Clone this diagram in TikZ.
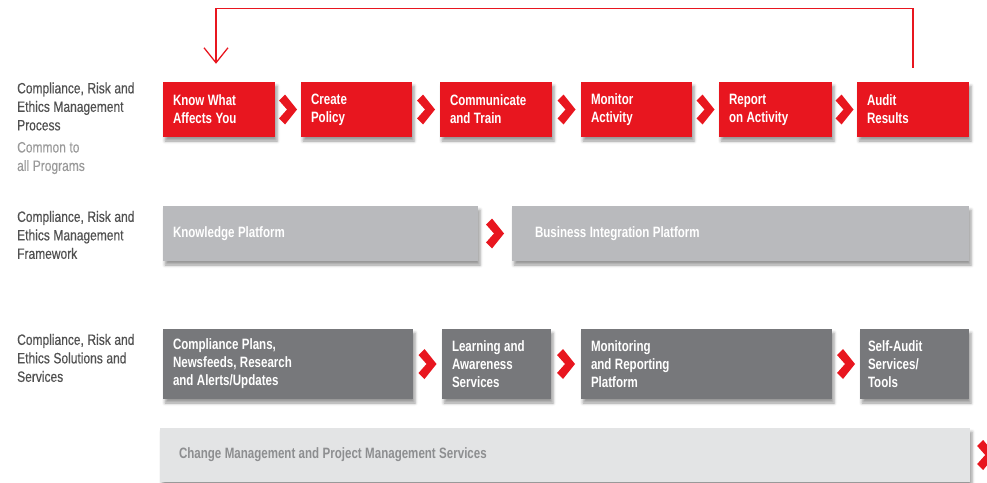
\documentclass[tikz,border=0pt]{standalone}
\usepackage{fontspec}
\setmainfont{Liberation Sans}[FakeStretch=0.8, FakeBold=0.4]
\newfontfamily\boxfont{Liberation Sans Bold}[FakeStretch=0.77]
\usetikzlibrary{calc,positioning,shapes,shadows,shadows.blur,arrows.meta}

\definecolor{crered}{HTML}{E8161F}
\definecolor{crelight}{HTML}{B9BABD}
\definecolor{credark}{HTML}{77787B}
\definecolor{crepale}{HTML}{E3E4E5}
\definecolor{crelabel}{HTML}{505050}
\definecolor{cremuted}{HTML}{9A9A9A}
\definecolor{crepaletext}{HTML}{8D8E90}

\tikzset{
	stagebox/.style={rectangle, inner xsep=10pt, inner ysep=0pt, text width=#1, align=left,
		minimum height=55pt, text=white, font=\boxfont\fontsize{15}{18}\selectfont,
		execute at begin node={\spaceskip=3.4pt plus 1pt minus 0.5pt},
		blur shadow={shadow xshift=2pt, shadow yshift=-4pt, shadow blur radius=3pt, shadow opacity=40}},
	redbox/.style={stagebox=#1, fill=crered},
	lightbox/.style={stagebox=#1, fill=crelight},
	darkbox/.style={stagebox=#1, fill=credark, minimum height=70pt},
	palebox/.style={stagebox=#1, fill=crepale, text=crepaletext, minimum height=54pt},
	rowlabel/.style={anchor=west, inner sep=0pt, align=left, text=crelabel,
		font=\fontsize{15}{18.5}\selectfont,
		execute at begin node={\spaceskip=3.6pt plus 1pt minus 0.5pt}},
	chev/.pic={\fill[crered] (-9,-9) -- (-3,-15) -- (9,0) -- (-3,15) -- (-9,9) -- (-1,0) -- cycle;},
	feedback/.style={draw=crered, line width=1.3pt, -{Straight Barb[length=15pt,width=24pt]}}
}

\begin{document}
\begin{tikzpicture}[x=1pt,y=-1pt]
	\useasboundingbox (0,0) rectangle (987,482);

	% row labels
	\node[rowlabel] (lblprocess) at (17,106.5) {Compliance, Risk and\\Ethics Management\\Process};
	\node[rowlabel, text=cremuted] (lblcommon) at (17,158) {Common to\\all Programs};
	\node[rowlabel] (lblframework) at (17,235) {Compliance, Risk and\\Ethics Management\\Framework};
	\node[rowlabel] (lblsolutions) at (17,358) {Compliance, Risk and\\Ethics Solutions and\\Services};

	% process
	\node[redbox=92pt] (know)    at (219,109.5)   {Know What\\Affects You};
	\node[redbox=91pt] (policy)  at (356.5,109.5) {Create\\Policy};
	\node[redbox=92pt] (train)   at (496,109.5)   {Communicate\\and Train};
	\node[redbox=91pt] (monitor) at (636.5,109.5) {Monitor\\Activity};
	\node[redbox=93pt] (report)  at (775.5,109.5) {Report\\on Activity};
	\node[redbox=92pt] (audit)   at (913,109.5)   {Audit\\Results};

	% framework
	\node[lightbox=295pt] (knowledge) at (320.5,233.5) {Knowledge Platform};
	\node[lightbox=411pt, inner xsep=23pt] (business) at (740.5,233.5) {Business Integration Platform};

	% solutions and services
	\node[darkbox=230pt] (plans)      at (288,364)   {Compliance Plans,\\Newsfeeds, Research\\and Alerts/Updates};
	\node[darkbox=89pt]  (learning)   at (496.5,364) {Learning and\\Awareness\\Services};
	\node[darkbox=231pt] (monitoring) at (706.5,364) {Monitoring\\and Reporting\\Platform};
	\node[darkbox=93pt, inner xsep=8pt] (selfaudit) at (914.5,364) {Self-Audit\\Services/\\Tools};

	\node[palebox=772pt, inner xsep=19pt] (change) at (565,455) {Change Management and Project Management Services};

	% chevrons
	\foreach \a/\b in {know/policy,policy/train,train/monitor,monitor/report,report/audit,
		knowledge/business,plans/learning,learning/monitoring,monitoring/selfaudit}
		\pic at ($(\a.east)!0.5!(\b.west)$) {chev};
	\pic at ([xshift=16pt]change.east) {chev};

	% feedback loop
	\coordinate (loopR) at ([yshift=14pt]audit.north);
	\coordinate (loopL) at ([xshift=-3pt,yshift=18pt]know.north);
	\draw[feedback] (loopR) -- ++(0,-59) -| (loopL);
\end{tikzpicture}
\end{document}
